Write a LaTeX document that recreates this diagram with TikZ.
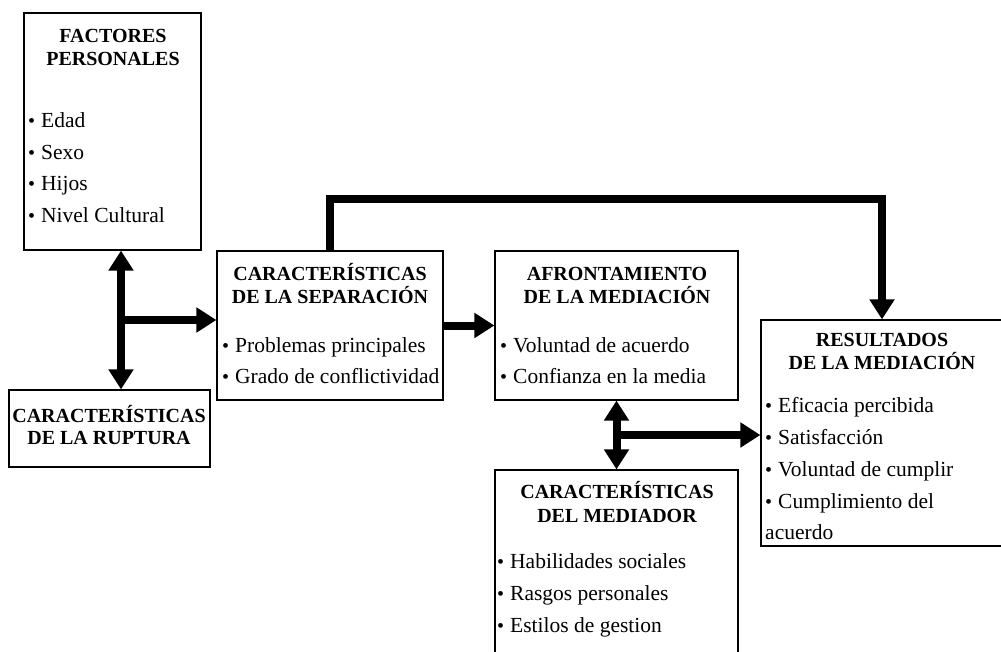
\documentclass[tikz,border=0pt]{standalone}
\usepackage{fontspec}
\setmainfont{Liberation Serif}
\usepackage{tikz}
\usetikzlibrary{arrows.meta}
\usetikzlibrary{positioning}

\newcommand{\blt}{{\fontsize{20}{20}\selectfont\textbullet}\hspace{6pt}}

\begin{document}
\begin{tikzpicture}
		[x=1pt,y=-1pt,
		box/.style={draw,line width=1.2pt,inner sep=0pt},
		head/.style={font=\fontsize{20}{24}\selectfont\bfseries,anchor=base,inner sep=0pt},
		item/.style={font=\fontsize{21.5}{31}\selectfont,anchor=base west,inner sep=0pt},
		flow/.style={line width=8pt,-{Triangle[length=20pt,width=24pt]}},
		dflow/.style={line width=8pt,{Triangle[length=20pt,width=24pt]}-{Triangle[length=20pt,width=24pt]}}]
		\useasboundingbox (0,0) rectangle (1001,652);
		
		% boxes
		\node[box,minimum width=177pt,minimum height=237pt] (fac) at (112.5,131.5) {};
		\node[box,minimum width=226pt,minimum height=149pt] (sep) at (330,325.5) {};
		\node[box,minimum width=201pt,minimum height=77pt] (rup) at (109.5,428.5) {};
		\node[box,minimum width=243pt,minimum height=149pt] (afr) at (616.5,325.5) {};
		\node[box,minimum width=242pt,minimum height=226pt] (res) at (882,433) {};
		\node[box,minimum width=243pt,minimum height=220pt] (med) at (616.5,580) {};
		
		% headings
		\node[head] (fach1) at (113,43) {FACTORES};
		\node[head] (fach2) at (113,66) {PERSONALES};
		\node[head] (seph1) at (330,280) {CARACTERÍSTICAS};
		\node[head] (seph2) at (330,304) {DE LA SEPARACIÓN};
		\node[head] (ruph1) at (109,422) {CARACTERÍSTICAS};
		\node[head] (ruph2) at (109,444) {DE LA RUPTURA};
		\node[head] (afrh1) at (617,280) {AFRONTAMIENTO};
		\node[head] (afrh2) at (617,304) {DE LA MEDIACIÓN};
		\node[head] (resh1) at (882,346) {RESULTADOS};
		\node[head] (resh2) at (882,369) {DE LA MEDIACIÓN};
		\node[head] (medh1) at (617,498) {CARACTERÍSTICAS};
		\node[head] (medh2) at (617,522) {DEL MEDIADOR};
		
		% items
		\foreach \t/\y in {Edad/128, Sexo/160, Hijos/191, Nivel Cultural/223}
		\node[item] (fac\y) at (28,\y) {\blt\t};
		\foreach \t/\y in {Problemas principales/352, Grado de conflictividad/383}
		\node[item] (sep\y) at (222,\y) {\blt\t};
		\foreach \t/\y in {Voluntad de acuerdo/352, Confianza en la media/383}
		\node[item] (afr\y) at (500,\y) {\blt\t};
		\foreach \t/\y in {Eficacia percibida/412, Satisfacción/444, Voluntad de cumplir/476, Cumplimiento del/508}
		\node[item] (res\y) at (765,\y) {\blt\t};
		\node[item] (res539) at (765,539) {acuerdo};
		\foreach \t/\y in {Habilidades sociales/568, Rasgos personales/600, Estilos de gestion/632}
		\node[item] (med\y) at (497,\y) {\blt\t};
		
		% connectors
		\coordinate (jl) at (121,320);
		\coordinate (jr) at (617,435);
		\draw[dflow] (jl |- fac.south) -- (jl |- rup.north);
		\draw[flow] (jl) -- (jl -| sep.west);
		\draw[flow] (sep.east) -- (afr.west);
		\draw[flow] (sep.north) -- ++(0,-51) -| (res.north);
		\draw[dflow] (afr.south) -- (med.north);
		\draw[flow] (jr) -- (jr -| res.west);
		\end{tikzpicture}
\end{document}
